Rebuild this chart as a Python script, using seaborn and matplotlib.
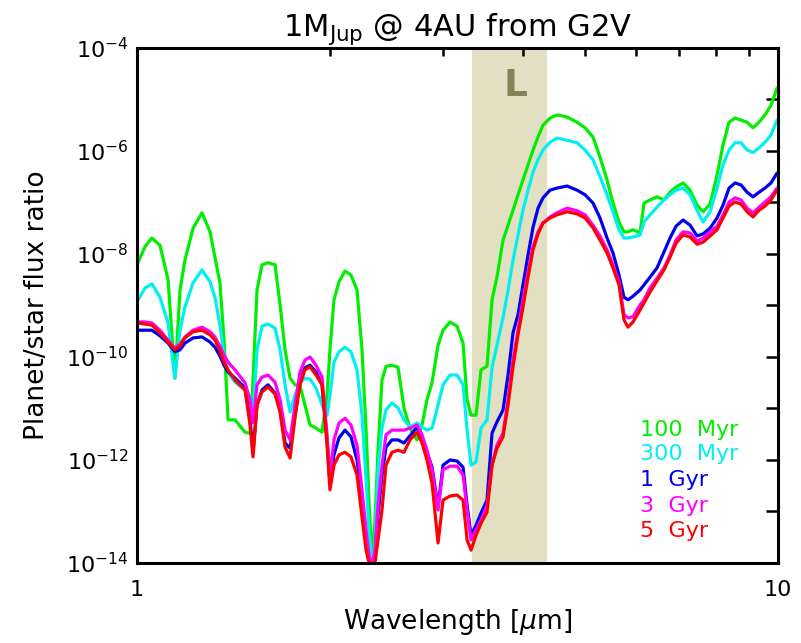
import numpy as np
import pandas as pd
import matplotlib
matplotlib.use("Agg")
import matplotlib.pyplot as plt
import matplotlib.ticker as mticker
import seaborn as sns

# wavelength grid [micron]
wavelength = [1.004, 1.029, 1.055, 1.086, 1.118, 1.146, 1.167, 1.188, 1.223, 1.263,
              1.300, 1.323, 1.347, 1.367, 1.387, 1.422, 1.474, 1.501, 1.517, 1.539,
              1.567, 1.601, 1.642, 1.672, 1.702, 1.733, 1.764, 1.796, 1.828, 1.862,
              1.902, 1.944, 1.979, 2.000, 2.029, 2.066, 2.111, 2.157, 2.204, 2.244,
              2.277, 2.301, 2.326, 2.351, 2.377, 2.411, 2.446, 2.499, 2.554, 2.609,
              2.666, 2.734, 2.784, 2.834, 2.886, 2.949, 3.002, 3.078, 3.157, 3.226,
              3.273, 3.320, 3.380, 3.441, 3.516, 3.580, 3.644, 3.724, 3.792, 3.860,
              3.930, 4.001, 4.074, 4.148, 4.223, 4.299, 4.409, 4.521, 4.687, 4.858,
              5.000, 5.145, 5.276, 5.411, 5.528, 5.649, 5.751, 5.834, 5.940, 6.091,
              6.180, 6.314, 6.475, 6.640, 6.785, 6.933, 7.110, 7.291, 7.477, 7.640,
              7.834, 8.033, 8.209, 8.388, 8.571, 8.757, 8.948, 9.142, 9.342, 9.544,
              9.752, 9.964]

# log10 of planet/star flux ratio
log_100myr = [-8.16, -7.86, -7.69, -7.83, -8.50, -10.41, -8.70, -8.12, -7.50, -7.20,
              -7.57, -8.06, -8.56, -9.67, -11.22, -11.22, -11.46, -11.48, -10.45, -8.70,
              -8.21, -8.17, -8.21, -8.99, -9.86, -10.41, -10.54, -10.56, -10.93, -11.32,
              -11.38, -11.46, -10.74, -9.86, -8.89, -8.54, -8.33, -8.41, -8.70, -9.86,
              -11.42, -12.78, -13.94, -13.17, -11.81, -10.45, -10.18, -10.16, -10.20, -10.99,
              -11.38, -11.61, -11.32, -10.83, -10.50, -9.77, -9.48, -9.32, -9.40, -9.73,
              -10.83, -11.13, -11.13, -10.25, -10.18, -8.89, -8.45, -7.73, -7.44, -7.15,
              -6.85, -6.56, -6.27, -5.98, -5.73, -5.50, -5.36, -5.30, -5.34, -5.44,
              -5.55, -5.73, -6.12, -6.56, -7.01, -7.38, -7.57, -7.57, -7.53, -7.59,
              -7.01, -6.95, -6.89, -6.95, -6.80, -6.70, -6.62, -6.76, -7.05, -7.18,
              -7.03, -6.47, -5.88, -5.44, -5.36, -5.40, -5.44, -5.55, -5.44, -5.30,
              -5.11, -4.78]

log_300myr = [-8.89, -8.66, -8.58, -8.84, -9.34, -10.41, -9.48, -9.03, -8.56, -8.31,
              -8.54, -8.84, -9.38, -9.96, -10.29, -10.49, -10.64, -10.83, -11.17, -9.86,
              -9.40, -9.36, -9.44, -9.86, -10.54, -11.07, -10.74, -10.50, -10.41, -10.43,
              -10.60, -10.93, -11.13, -10.74, -10.10, -9.90, -9.81, -9.90, -10.25, -11.13,
              -12.39, -13.36, -14.05, -13.65, -12.19, -11.38, -11.03, -10.89, -10.99, -11.22,
              -11.36, -11.28, -11.36, -11.42, -11.38, -10.93, -10.54, -10.35, -10.35, -10.54,
              -11.42, -12.10, -12.04, -11.38, -11.22, -10.20, -9.77, -9.24, -8.70, -8.12,
              -7.63, -7.15, -6.76, -6.41, -6.17, -5.98, -5.83, -5.75, -5.79, -5.84,
              -5.98, -6.17, -6.50, -6.85, -7.18, -7.53, -7.69, -7.69, -7.67, -7.63,
              -7.38, -7.24, -7.09, -6.95, -6.85, -6.76, -6.72, -6.85, -7.15, -7.38,
              -7.18, -6.72, -6.27, -5.98, -5.84, -5.84, -5.98, -6.03, -5.94, -5.83,
              -5.69, -5.40]

log_1gyr = [-9.48, -9.48, -9.48, -9.59, -9.73, -9.90, -9.86, -9.73, -9.63, -9.61,
            -9.71, -9.81, -9.98, -10.16, -10.29, -10.41, -10.60, -11.22, -11.86, -10.93,
            -10.64, -10.54, -10.70, -11.03, -11.67, -11.77, -11.13, -10.45, -10.21, -10.16,
            -10.29, -10.54, -11.61, -12.45, -11.90, -11.57, -11.42, -11.55, -12.00, -12.72,
            -13.55, -13.94, -14.05, -13.85, -13.07, -12.29, -11.75, -11.61, -11.61, -11.67,
            -11.53, -11.36, -11.57, -11.85, -12.14, -12.91, -12.10, -12.00, -12.02, -12.14,
            -12.88, -13.46, -13.27, -13.03, -12.78, -11.48, -11.26, -11.03, -10.35, -9.53,
            -9.18, -8.60, -8.02, -7.48, -7.11, -6.91, -6.76, -6.72, -6.68, -6.76,
            -6.85, -7.01, -7.30, -7.69, -7.98, -8.41, -8.84, -8.89, -8.82, -8.70,
            -8.60, -8.45, -8.27, -7.96, -7.69, -7.46, -7.34, -7.44, -7.65, -7.61,
            -7.50, -7.30, -7.05, -6.72, -6.62, -6.66, -6.80, -6.89, -6.80, -6.72,
            -6.62, -6.43]

log_3gyr = [-9.32, -9.32, -9.34, -9.48, -9.67, -9.83, -9.75, -9.61, -9.48, -9.42,
            -9.51, -9.61, -9.79, -9.96, -10.10, -10.25, -10.50, -10.83, -11.28, -10.54,
            -10.39, -10.35, -10.49, -10.83, -11.42, -11.61, -10.93, -10.29, -10.06, -10.00,
            -10.16, -10.39, -11.51, -12.33, -11.61, -11.28, -11.19, -11.32, -11.71, -12.58,
            -13.36, -13.85, -14.05, -13.75, -12.87, -12.10, -11.51, -11.42, -11.42, -11.42,
            -11.38, -11.32, -11.51, -11.81, -12.19, -12.97, -12.19, -12.12, -12.12, -12.29,
            -12.97, -13.55, -13.36, -13.17, -12.88, -12.10, -11.71, -11.48, -10.83, -10.06,
            -9.48, -8.89, -8.35, -7.86, -7.57, -7.40, -7.28, -7.20, -7.11, -7.16,
            -7.24, -7.44, -7.65, -7.92, -8.21, -8.54, -9.18, -9.24, -9.22, -8.99,
            -8.89, -8.66, -8.47, -8.27, -8.02, -7.73, -7.57, -7.59, -7.75, -7.69,
            -7.57, -7.46, -7.24, -6.99, -6.91, -6.95, -7.11, -7.20, -7.09, -6.99,
            -6.89, -6.72]

log_5gyr = [-9.34, -9.36, -9.38, -9.53, -9.71, -9.86, -9.79, -9.63, -9.51, -9.48,
            -9.57, -9.67, -9.88, -10.10, -10.25, -10.45, -10.64, -11.32, -11.94, -10.93,
            -10.68, -10.58, -10.72, -11.07, -11.75, -11.96, -11.18, -10.54, -10.25, -10.19,
            -10.35, -10.54, -11.71, -12.58, -12.10, -11.90, -11.85, -11.94, -12.29, -13.11,
            -13.75, -14.00, -14.05, -14.00, -13.55, -12.97, -12.10, -11.85, -11.81, -11.85,
            -11.61, -11.46, -11.67, -12.00, -12.45, -13.61, -12.78, -12.70, -12.68, -12.78,
            -13.55, -13.75, -13.46, -13.23, -13.01, -12.10, -11.77, -11.55, -10.93, -10.19,
            -9.57, -9.03, -8.45, -7.92, -7.61, -7.40, -7.30, -7.24, -7.18, -7.22,
            -7.30, -7.49, -7.73, -7.98, -8.27, -8.60, -9.28, -9.42, -9.32, -9.09,
            -8.95, -8.74, -8.52, -8.31, -8.06, -7.79, -7.63, -7.67, -7.81, -7.77,
            -7.65, -7.53, -7.30, -7.07, -6.99, -7.03, -7.18, -7.28, -7.15, -7.07,
            -6.95, -6.76]

ages = ["100 Myr", "300 Myr", "1 Gyr", "3 Gyr", "5 Gyr"]
legend_labels = ["100  Myr", "300  Myr", "1  Gyr", "3  Gyr", "5  Gyr"]
colors = ["#00ee00", "#00f0f0", "#0000ee", "#ff00ff", "#ff0000"]
series = [log_100myr, log_300myr, log_1gyr, log_3gyr, log_5gyr]

band_name = "L"
band_edges = [3.33, 4.36]

title = r"1M$_{\mathrm{Jup}}$ @ 4AU from G2V"
xlabel = r"Wavelength [$\mu$m]"
ylabel = "Planet/star flux ratio"

frames = []
for age, logs in zip(ages, series):
    frames.append(pd.DataFrame({"wavelength": wavelength,
                                "ratio": 10.0 ** np.array(logs),
                                "age": age}))
df = pd.concat(frames, ignore_index=True)

sns.set_style("white")
plt.rcParams["font.family"] = ["DejaVu Sans"]
plt.rcParams["mathtext.fontset"] = "dejavusans"
for k in ["text.color", "axes.labelcolor", "xtick.color", "ytick.color"]:
    plt.rcParams[k] = "black"

fig = plt.figure(figsize=(8.01, 6.43), dpi=100)
ax = fig.add_axes([137 / 801, 1 - 563 / 643, (778 - 137) / 801, (563 - 48) / 643])

ax.axvspan(band_edges[0], band_edges[1], color="#e3dfc3", lw=0, zorder=0)

sns.lineplot(data=df, x="wavelength", y="ratio", hue="age", hue_order=ages,
             palette=dict(zip(ages, colors)), estimator=None, sort=False,
             legend=False, linewidth=2.3, ax=ax, zorder=2)

ax.set_xscale("log")
ax.set_yscale("log")
ax.set_xlim(1, 10)
ax.set_ylim(1e-14, 1e-4)

ax.xaxis.set_major_locator(mticker.FixedLocator([1, 10]))
ax.xaxis.set_major_formatter(mticker.FixedFormatter(["1", "10"]))
ax.xaxis.set_minor_locator(mticker.FixedLocator([2, 3, 4, 5, 6, 7, 8, 9]))
ax.xaxis.set_minor_formatter(mticker.NullFormatter())

ax.yaxis.set_major_locator(mticker.FixedLocator([10.0 ** e for e in range(-14, -3)]))
ax.yaxis.set_major_formatter(mticker.FuncFormatter(
    lambda v, p: (r"$10^{%d}$" % round(np.log10(v))) if round(np.log10(v)) % 2 == 0 else ""))
ax.yaxis.set_minor_locator(mticker.NullLocator())

ax.tick_params(axis="both", which="both", direction="in", top=True, right=True,
               color="black", width=1.8)
ax.tick_params(axis="y", which="major", length=9, labelsize=16, pad=6)
ax.tick_params(axis="x", which="major", length=9, labelsize=16, pad=12)
ax.tick_params(axis="x", which="minor", length=6)

for s in ax.spines.values():
    s.set_linewidth(2.2)
    s.set_color("black")

ax.set_xlabel(xlabel, fontsize=19, labelpad=5)
ax.set_ylabel(ylabel, fontsize=19, labelpad=12)
ax.set_title(title, fontsize=22, pad=9)

ax.text(3.89, 1.8e-5, band_name, color="#878157", fontsize=27, fontweight="bold",
        ha="center", va="center", zorder=3)

legend_y = [0.2466, 0.200, 0.1495, 0.099, 0.0505]
for lab, c, yy in zip(legend_labels, colors, legend_y):
    ax.text(0.784, yy, lab, color=c, fontsize=16, ha="left", va="baseline",
            transform=ax.transAxes, zorder=4)

fig.savefig("out.png", dpi=100, facecolor="white")
